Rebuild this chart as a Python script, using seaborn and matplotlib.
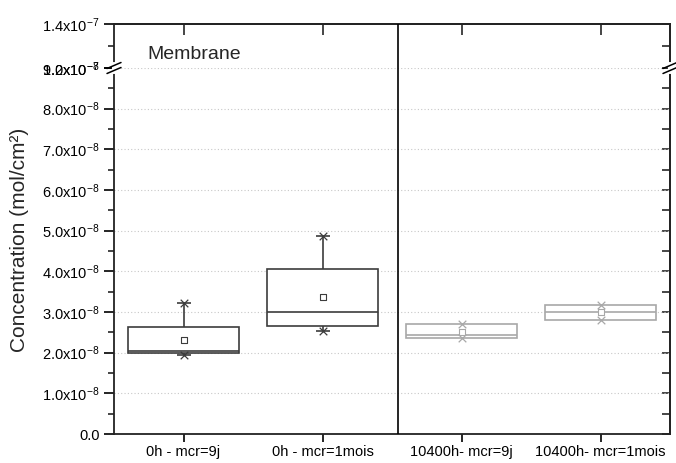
import numpy as np
import pandas as pd
import matplotlib
matplotlib.use("Agg")
import matplotlib.pyplot as plt
import seaborn as sns

# box statistics (mol/cm2)
categories = ["0h - mcr=9j", "0h - mcr=1mois", "10400h- mcr=9j", "10400h- mcr=1mois"]
mins = [1.94e-8, 2.53e-8, 2.35e-8, 2.81e-8]
q1s = [1.985e-8, 2.65e-8, 2.35e-8, 2.81e-8]
medians = [2.03e-8, 3.00e-8, 2.43e-8, 3.00e-8]
q3s = [2.64e-8, 4.05e-8, 2.71e-8, 3.18e-8]
maxs = [3.22e-8, 4.87e-8, 2.71e-8, 3.18e-8]
means = [2.31e-8, 3.36e-8, 2.51e-8, 3.00e-8]
aged = [False, False, True, True]

low_ticks = [i * 1e-8 for i in range(10)]
low_labels = ["0.0"] + ["%d.0x10$^{-8}$" % i for i in range(1, 10)]
up_ticks = [1.2e-7, 1.4e-7]
up_labels = ["1.2x10$^{-7}$", "1.4x10$^{-7}$"]

sns.set_style("ticks")
plt.rcParams["font.family"] = ["Liberation Sans", "DejaVu Sans"]
plt.rcParams["mathtext.fontset"] = "custom"
plt.rcParams["mathtext.rm"] = "Liberation Sans"
plt.rcParams["mathtext.default"] = "rm"

dark = "#3c3c3c"
grey = "#a8a8a8"

# five values per group give back exactly min/q1/median/q3/max with whis=(0, 100)
rows = []
for c, a, b, m, d, e in zip(categories, mins, q1s, medians, q3s, maxs):
    for v in (a, b, m, d, e):
        rows.append({"group": c, "value": v})
df = pd.DataFrame(rows)
fresh = [c for c, g in zip(categories, aged) if not g]
old = [c for c, g in zip(categories, aged) if g]

fig = plt.figure(figsize=(6.76, 4.63), dpi=100)
x0, w = 114 / 676, 556 / 676
ax = fig.add_axes([x0, 29 / 463, w, 366 / 463])
ax_up = fig.add_axes([x0, 395 / 463, w, 44 / 463])

for sub, col in ((fresh, dark), (old, grey)):
    sns.boxplot(data=df[df["group"].isin(sub)], x="group", y="value", order=categories,
                whis=(0, 100), width=0.8, color="white", linecolor=col, linewidth=1.2,
                showcaps=False, fliersize=0, ax=ax)

pos = np.arange(len(categories))
for i, col in enumerate([grey if g else dark for g in aged]):
    ax.scatter([pos[i], pos[i]], [mins[i], maxs[i]], marker="x", s=30, color=col, lw=0.9, zorder=5)
    if not aged[i]:
        ax.scatter([pos[i], pos[i]], [mins[i], maxs[i]], marker="_", s=110, color=col, lw=1.2, zorder=5)
    ax.scatter(pos[i], means[i], marker="s", s=16, facecolor="white", edgecolor=col, lw=0.8, zorder=6)

# lower segment
ax.set_xlim(-0.5, 3.5)
ax.set_ylim(0, 9e-8)
ax.set_yticks(low_ticks, low_labels)
ax.set_yticks([i * 1e-8 + 5e-9 for i in range(9)], minor=True)
ax.set_xticks(pos, categories)
ax.set_xlabel("")
ax.set_ylabel("Concentration (mol/cm²)", fontsize=15)
ax.yaxis.set_label_coords(-0.153, 0.53)
ax.tick_params(axis="both", which="major", direction="out", length=7, width=1.2, labelsize=10.5, colors="black")
ax.tick_params(axis="y", which="minor", direction="out", length=4, width=1.2)
ax.tick_params(axis="x", length=6, pad=2, labelsize=10.5)
ax.grid(axis="y", linestyle=(0, (1, 2)), color="#c8c8c8", lw=0.8)
ax.spines["top"].set_visible(False)
for s in ("left", "right", "bottom"):
    ax.spines[s].set_linewidth(1.3)
    ax.spines[s].set_color("#222222")
ax.spines["right"].set_visible(True)
r = ax.secondary_yaxis("right")
r.set_yticks(low_ticks)
r.set_yticks([i * 1e-8 + 5e-9 for i in range(9)], minor=True)
r.tick_params(which="both", direction="in", length=6, width=1.2, labelright=False)
r.spines["right"].set_linewidth(1.3)

# upper segment
ax_up.set_xlim(-0.5, 3.5)
ax_up.set_ylim(1.2e-7, 1.4e-7)
ax_up.set_yticks(up_ticks, up_labels)
ax_up.set_yticks([1.3e-7], minor=True)
ax_up.set_xticks([])
ax_up.tick_params(axis="y", which="major", direction="out", length=7, width=1.2, labelsize=10.5, colors="black")
ax_up.tick_params(axis="y", which="minor", direction="out", length=4, width=1.2)
ax_up.spines["bottom"].set_visible(False)
for s in ("left", "right", "top"):
    ax_up.spines[s].set_linewidth(1.3)
    ax_up.spines[s].set_color("#222222")
ru = ax_up.secondary_yaxis("right")
ru.set_yticks(up_ticks)
ru.set_yticks([1.3e-7], minor=True)
ru.tick_params(which="both", direction="in", length=6, width=1.2, labelright=False)
ru.spines["right"].set_linewidth(1.3)
tu = ax_up.secondary_xaxis("top")
tu.set_xticks(pos)
tu.tick_params(direction="in", length=8, width=1.2, labeltop=False)
tu.spines["top"].set_linewidth(1.3)

# separator between the two ageing times
for a in (ax, ax_up):
    a.axvline(1.54, color="black", lw=1.2, zorder=4)

ax_up.text(0.06, 0.3, "Membrane", transform=ax_up.transAxes, fontsize=14, va="center")

# break marks on both spines
yb = 395 / 463
for xs in (x0, x0 + w):
    fig.add_artist(plt.Line2D([xs, xs], [yb - 4 / 463, yb + 4 / 463], color="white", lw=3))
    for d in (-2.5, 2.5):
        fig.add_artist(plt.Line2D([xs - 7 / 676, xs + 7 / 676],
                                  [yb + (d - 3) / 463, yb + (d + 3) / 463], color="black", lw=1.1))

fig.savefig("out.png", dpi=100)
